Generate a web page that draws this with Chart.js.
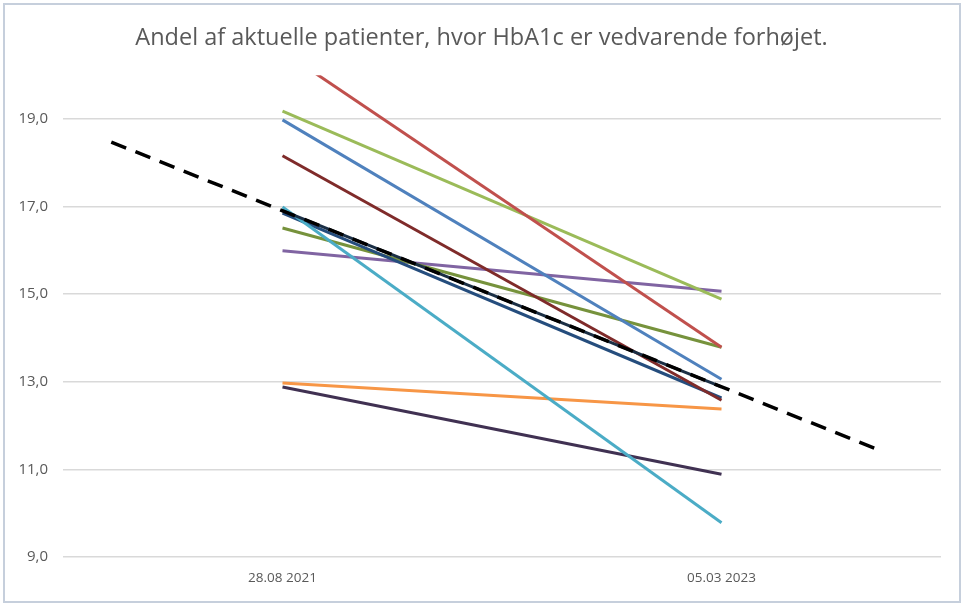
<!DOCTYPE html>
<html lang="da">
<head>
<meta charset="utf-8">
<title>HbA1c</title>
<script src="https://cdn.jsdelivr.net/npm/chart.js@4.4.1/dist/chart.umd.min.js"></script>
<style>
  html, body { margin: 0; padding: 0; background: #fff; }
  #wrap { position: relative; width: 963px; height: 606px; }
  #chart { position: absolute; left: 0; top: 0; }
  #frame {
    position: absolute; left: 3px; top: 3px; width: 954px; height: 596px;
    border: 2px solid #c6cfdc; pointer-events: none;
  }
</style>
</head>
<body>
<div id="wrap">
  <canvas id="chart" width="963" height="606"></canvas>
  <div id="frame"></div>
</div>
<script>
// Målinger pr. patient: første og seneste dato
const dates = ['28.08 2021', '05.03 2023'];

const patientA = [20.55, 13.79];
const patientB = [19.18, 14.89];
const patientC = [18.98, 13.06];
const patientD = [18.16, 12.58];
const patientE = [16.99, 9.78];
const patientF = [16.85, 12.63];
const patientG = [16.51, 13.79];
const patientH = [15.99, 15.07];
const patientI = [12.97, 12.38];
const patientJ = [12.88, 10.89];

const yTicks = [9, 11, 13, 15, 17, 19];

// trendlinjen forlænges lidt bagud og fremad
const trendBackward = 0.39;
const trendForward = 0.36;

const patients = [
  { data: patientA, color: '#c0504d' },
  { data: patientB, color: '#9bbb59' },
  { data: patientC, color: '#4f81bd' },
  { data: patientD, color: '#7f2b2a' },
  { data: patientE, color: '#4bacc6' },
  { data: patientF, color: '#254d7d' },
  { data: patientG, color: '#76923c' },
  { data: patientH, color: '#8064a2' },
  { data: patientI, color: '#f79646' },
  { data: patientJ, color: '#403152' }
];

// gennemsnit af alle patienter
const mean = dates.map((d, i) =>
  patients.reduce((s, p) => s + p.data[i], 0) / patients.length);
const slope = mean[1] - mean[0];
const trend = [
  { x: -trendBackward, y: mean[0] - slope * trendBackward },
  { x: 1 + trendForward, y: mean[1] + slope * trendForward }
];

const toPoints = arr => arr.map((v, i) => ({ x: i, y: v }));

const datasets = [
  {
    data: trend,
    borderColor: '#000',
    borderWidth: 3.5,
    borderDash: [16, 10]
  },
  { data: toPoints(mean), borderColor: '#1b2f45', borderWidth: 3 }
].concat(patients.map(p => ({
  data: toPoints(p.data),
  borderColor: p.color,
  borderWidth: 3
})));

datasets.forEach(ds => {
  ds.pointRadius = 0;
  ds.tension = 0;
  ds.clip = 0;
});

const labelColor = '#595959';

// titlen centreres over hele lærredet, ikke kun plotområdet
const centerTitle = {
  id: 'centerTitle',
  afterLayout(chart) {
    const t = chart.titleBlock;
    if (!t) return;
    t.left = 0;
    t.right = chart.width;
    t.width = chart.width;
  }
};

new Chart(document.getElementById('chart'), {
  type: 'line',
  data: { datasets },
  plugins: [centerTitle],
  options: {
    responsive: false,
    animation: false,
    layout: { padding: { left: 0, right: 22, top: 0, bottom: 0 } },
    plugins: {
      legend: { display: false },
      tooltip: { enabled: false },
      title: {
        display: true,
        text: 'Andel af aktuelle patienter, hvor HbA1c er vedvarende forhøjet.',
        color: labelColor,
        font: { family: 'Open Sans', size: 23.5, weight: 'normal' },
        padding: { top: 24, bottom: 23 }
      }
    },
    scales: {
      x: {
        type: 'linear',
        min: -0.5,
        max: 1.5,
        afterBuildTicks: scale => { scale.ticks = dates.map((d, i) => ({ value: i })); },
        afterFit: scale => { scale.height = 49; },
        ticks: {
          color: labelColor,
          padding: 13,
          font: { family: 'Open Sans', size: 13.5 },
          callback: v => dates[v]
        },
        grid: { display: false, drawTicks: false },
        border: { display: false }
      },
      y: {
        min: 9,
        max: 20,
        afterBuildTicks: scale => { scale.ticks = yTicks.map(v => ({ value: v })); },
        afterFit: scale => { scale.width = 63; },
        ticks: {
          color: labelColor,
          padding: 15,
          font: { family: 'Open Sans', size: 15 },
          callback: v => v.toFixed(1).replace('.', ',')
        },
        grid: { color: '#d9d9d9', lineWidth: 1.5, drawTicks: false },
        border: { display: false }
      }
    }
  }
});
</script>
</body>
</html>
